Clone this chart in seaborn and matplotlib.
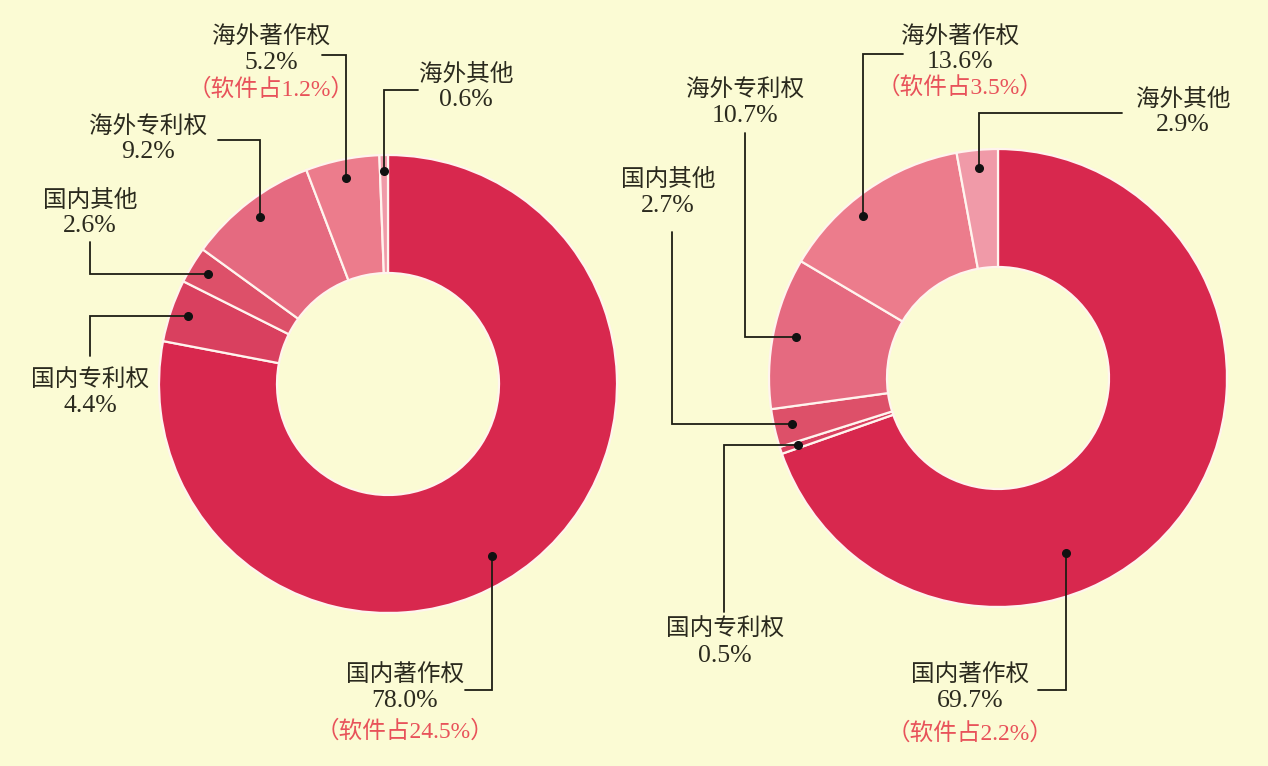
import numpy as np
import matplotlib
matplotlib.use("Agg")
import matplotlib.pyplot as plt
import seaborn as sns

# ---------------- data ----------------
categories = ["国内著作权", "国内专利权", "国内其他", "海外专利权", "海外著作权", "海外其他"]
left_values = [78.0, 4.4, 2.6, 9.2, 5.2, 0.6]
right_values = [69.7, 0.5, 2.7, 10.7, 13.6, 2.9]
left_software = {"国内著作权": 24.5, "海外著作权": 1.2}
right_software = {"国内著作权": 2.2, "海外著作权": 3.5}

# ---------------- style ----------------
sns.set_theme(style="white")
FONT = ["Liberation Serif", "Noto Sans CJK SC", "DejaVu Sans"]
plt.rcParams["font.family"] = FONT
BG = "#FBFBD4"
palette = sns.color_palette(["#D8284E", "#D9405F", "#DD5069", "#E56A80", "#EC7C8C", "#F09AA8"])
TXT = "#2B2A1E"
RED = "#E8525A"
LINE = "#1E1E14"

W, H = 1268, 766
fig = plt.figure(figsize=(W / 100, H / 100), dpi=100, facecolor=BG)
ax = fig.add_axes([0, 0, 1, 1])
ax.set_facecolor(BG)

R = 229
RIN = 111


def Y(y):
    return H - y


layouts = {
    "left": {
        "center": (388, 384),
        "values": left_values,
        "software": left_software,
        "labels": {
            "国内著作权": dict(x=405, ys=[676, 701, 731], mode="hv", start=(465, 690), f=0.53, r=0.88),
            "国内专利权": dict(x=90, ys=[381, 406], mode="vh", start=(90, 356), f=0.5, r=0.92),
            "国内其他": dict(x=90, ys=[201, 226], mode="vh", start=(90, 242), f=0.5, r=0.92),
            "海外专利权": dict(x=148, ys=[127, 152], mode="hv", start=(218, 140), f=0.5, r=0.92),
            "海外著作权": dict(x=271, ys=[37, 63, 89], mode="hv", start=(322, 55), f=0.5, r=0.92),
            "海外其他": dict(x=466, ys=[75, 100], mode="hv", start=(418, 90), f=0.5, r=0.93),
        },
    },
    "right": {
        "center": (998, 378),
        "values": right_values,
        "software": right_software,
        "labels": {
            "国内著作权": dict(x=970, ys=[676, 701, 733], mode="hv", start=(1038, 690), f=0.633, r=0.82),
            "国内专利权": dict(x=725, ys=[630, 656], mode="vh", start=(724, 612), f=0.5, r=0.92),
            "国内其他": dict(x=668, ys=[180, 206], mode="vh", start=(672, 232), f=0.5, r=0.92),
            "海外专利权": dict(x=745, ys=[90, 116], mode="vh", start=(745, 133), f=0.5, r=0.90),
            "海外著作权": dict(x=960, ys=[37, 62, 88], mode="hv", start=(903, 54), f=0.4, r=0.92),
            "海外其他": dict(x=1183, ys=[100, 125], mode="hv", start=(1122, 113), f=0.5, r=0.92),
        },
    },
}

FS_CJK = 17
FS_NUM = 18.5
FS_RED = 17

for key, lay in layouts.items():
    cx, cy = lay["center"]
    vals = lay["values"]
    ax.pie(vals, colors=palette, startangle=90, counterclock=False,
           center=(cx, Y(cy)), radius=R, frame=True,
           wedgeprops=dict(width=R - RIN, edgecolor="#FFF4EE", linewidth=1.6))
    total = float(sum(vals))
    cum = np.concatenate([[0], np.cumsum(vals)]) / total
    for i, cat in enumerate(categories):
        spec = lay["labels"][cat]
        frac = cum[i] + spec["f"] * (cum[i + 1] - cum[i])
        theta = np.deg2rad(90 - 360 * frac)
        dx = cx + spec["r"] * R * np.cos(theta)
        dy = Y(cy) + spec["r"] * R * np.sin(theta)
        sx, sy = spec["start"]
        sy = Y(sy)
        if spec["mode"] == "hv":
            xs, ys = [sx, dx, dx], [sy, sy, dy]
        else:
            xs, ys = [sx, sx, dx], [sy, dy, dy]
        ax.plot(xs, ys, color=LINE, lw=1.3, solid_joinstyle="miter", zorder=5)
        ax.plot([dx], [dy], "o", color="#111111", ms=5.5, zorder=6)
        ax.text(spec["x"], Y(spec["ys"][0]), cat, ha="center", va="center",
                fontsize=FS_CJK, color=TXT, family=FONT, zorder=7)
        ax.text(spec["x"], Y(spec["ys"][1]), f"{vals[i]:.1f}%", ha="center", va="center",
                fontsize=FS_NUM, color=TXT, family=FONT, zorder=7)
        if cat in lay["software"]:
            ax.text(spec["x"], Y(spec["ys"][2]), f"（软件占{lay['software'][cat]:.1f}%）",
                    ha="center", va="center", fontsize=FS_RED, color=RED, family=FONT, zorder=7)

ax.set_xlim(0, W)
ax.set_ylim(0, H)
ax.set_aspect("auto")
ax.axis("off")
fig.savefig("out.png", dpi=100, facecolor=BG)
